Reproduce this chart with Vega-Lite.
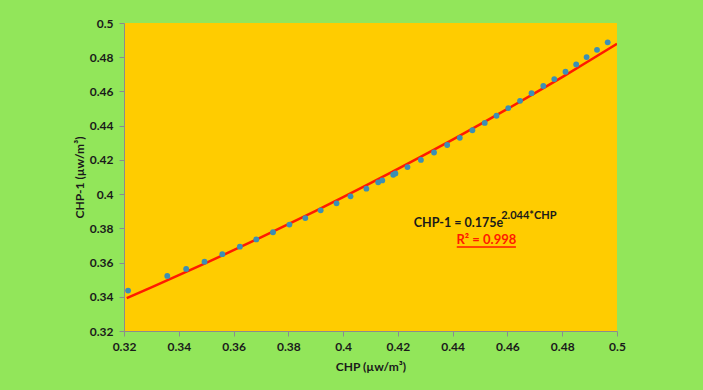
{
  "$schema": "https://vega.github.io/schema/vega-lite/v6.json",
  "width": 493,
  "height": 308,
  "autosize": {"type": "none"},
  "padding": {"left": 124, "top": 23, "right": 86, "bottom": 59},
  "background": "#92e65a",
  "config": {
    "view": {"fill": "#ffcc00", "stroke": null},
    "font": "Lato",
    "axis": {
      "grid": false,
      "domainColor": "#8c8c8c",
      "tickColor": "#8c8c8c",
      "tickSize": 5,
      "labelOverlap": false,
      "labelFlush": false,
      "labelFont": "Lato",
      "labelFontWeight": "bold",
      "labelFontSize": 12,
      "labelColor": "#1a1a1a",
      "titleFont": "Lato",
      "titleFontWeight": "bold",
      "titleFontSize": 12,
      "titleColor": "#1a1a1a"
    }
  },
  "datasets": {
    "obs": [
      {"CHP": 0.3215, "CHP_1": 0.3436},
      {"CHP": 0.3358, "CHP_1": 0.3522},
      {"CHP": 0.3427, "CHP_1": 0.3563},
      {"CHP": 0.3494, "CHP_1": 0.3605},
      {"CHP": 0.3559, "CHP_1": 0.3649},
      {"CHP": 0.3623, "CHP_1": 0.3693},
      {"CHP": 0.3683, "CHP_1": 0.3735},
      {"CHP": 0.3744, "CHP_1": 0.3777},
      {"CHP": 0.3804, "CHP_1": 0.3822},
      {"CHP": 0.3862, "CHP_1": 0.386},
      {"CHP": 0.3918, "CHP_1": 0.3905},
      {"CHP": 0.3976, "CHP_1": 0.3946},
      {"CHP": 0.4027, "CHP_1": 0.3987},
      {"CHP": 0.4085, "CHP_1": 0.4032},
      {"CHP": 0.4128, "CHP_1": 0.4069},
      {"CHP": 0.4143, "CHP_1": 0.408},
      {"CHP": 0.4183, "CHP_1": 0.4113},
      {"CHP": 0.4191, "CHP_1": 0.4121},
      {"CHP": 0.4235, "CHP_1": 0.4158},
      {"CHP": 0.4284, "CHP_1": 0.42},
      {"CHP": 0.4332, "CHP_1": 0.4243},
      {"CHP": 0.438, "CHP_1": 0.4287},
      {"CHP": 0.4426, "CHP_1": 0.4329},
      {"CHP": 0.4472, "CHP_1": 0.4373},
      {"CHP": 0.4517, "CHP_1": 0.4416},
      {"CHP": 0.456, "CHP_1": 0.4458},
      {"CHP": 0.4603, "CHP_1": 0.4503},
      {"CHP": 0.4646, "CHP_1": 0.4545},
      {"CHP": 0.4688, "CHP_1": 0.459},
      {"CHP": 0.4731, "CHP_1": 0.4632},
      {"CHP": 0.4771, "CHP_1": 0.4672},
      {"CHP": 0.4812, "CHP_1": 0.4715},
      {"CHP": 0.4851, "CHP_1": 0.4758},
      {"CHP": 0.4889, "CHP_1": 0.4801},
      {"CHP": 0.4927, "CHP_1": 0.4843},
      {"CHP": 0.4966, "CHP_1": 0.4887}
    ],
    "fit": [
      {"CHP": 0.321, "CHP_1": 0.3392},
      {"CHP": 0.33, "CHP_1": 0.3455},
      {"CHP": 0.34, "CHP_1": 0.3526},
      {"CHP": 0.35, "CHP_1": 0.3598},
      {"CHP": 0.36, "CHP_1": 0.3672},
      {"CHP": 0.37, "CHP_1": 0.3747},
      {"CHP": 0.38, "CHP_1": 0.3824},
      {"CHP": 0.39, "CHP_1": 0.3902},
      {"CHP": 0.4, "CHP_1": 0.3982},
      {"CHP": 0.41, "CHP_1": 0.4064},
      {"CHP": 0.42, "CHP_1": 0.4147},
      {"CHP": 0.43, "CHP_1": 0.4232},
      {"CHP": 0.44, "CHP_1": 0.4319},
      {"CHP": 0.45, "CHP_1": 0.4408},
      {"CHP": 0.46, "CHP_1": 0.4498},
      {"CHP": 0.47, "CHP_1": 0.459},
      {"CHP": 0.48, "CHP_1": 0.4684},
      {"CHP": 0.49, "CHP_1": 0.4781},
      {"CHP": 0.5, "CHP_1": 0.4879}
    ]
  },
  "layer": [
    {
      "data": {"name": "fit"},
      "mark": {"type": "line", "color": "#ff1a00", "strokeWidth": 2.5, "clip": true},
      "encoding": {
        "x": {
          "field": "CHP", "type": "quantitative",
          "scale": {"domain": [0.32, 0.5], "nice": false, "zero": false},
          "axis": {"title": "CHP (µw/m³)", "values": [0.32, 0.34, 0.36, 0.38, 0.4, 0.42, 0.44, 0.46, 0.48, 0.5], "format": "~g", "labelOverlap": false, "labelPadding": 5, "titlePadding": 9}
        },
        "y": {
          "field": "CHP_1", "type": "quantitative",
          "scale": {"domain": [0.32, 0.5], "nice": false, "zero": false},
          "axis": {"title": "CHP-1 (µw/m³)", "values": [0.32, 0.34, 0.36, 0.38, 0.4, 0.42, 0.44, 0.46, 0.48, 0.5], "format": "~g", "labelOverlap": false, "labelPadding": 6, "titlePadding": 3}
        }
      }
    },
    {
      "data": {"name": "obs"},
      "mark": {"type": "circle", "color": "#3b8fb5", "opacity": 1, "size": 34},
      "encoding": {
        "x": {"field": "CHP", "type": "quantitative",
          "axis": {"title": "CHP (µw/m³)", "values": [0.32, 0.34, 0.36, 0.38, 0.4, 0.42, 0.44, 0.46, 0.48, 0.5], "format": "~g", "labelOverlap": false, "labelPadding": 5, "titlePadding": 9}},
        "y": {"field": "CHP_1", "type": "quantitative",
          "axis": {"title": "CHP-1 (µw/m³)", "values": [0.32, 0.34, 0.36, 0.38, 0.4, 0.42, 0.44, 0.46, 0.48, 0.5], "format": "~g", "labelOverlap": false, "labelPadding": 6, "titlePadding": 3}}
      }
    },
    {
      "data": {"values": [{}]},
      "mark": {"type": "text", "text": "CHP-1 = 0.175e", "align": "left", "baseline": "alphabetic", "fontSize": 12.5, "fontWeight": "bold", "color": "#1a1a1a"},
      "encoding": {
        "x": {"datum": 0.4258, "type": "quantitative",
          "axis": {"title": "CHP (µw/m³)", "values": [0.32, 0.34, 0.36, 0.38, 0.4, 0.42, 0.44, 0.46, 0.48, 0.5], "format": "~g", "labelOverlap": false, "labelPadding": 5, "titlePadding": 9}},
        "y": {"datum": 0.3808, "type": "quantitative",
          "axis": {"title": "CHP-1 (µw/m³)", "values": [0.32, 0.34, 0.36, 0.38, 0.4, 0.42, 0.44, 0.46, 0.48, 0.5], "format": "~g", "labelOverlap": false, "labelPadding": 6, "titlePadding": 3}}
      }
    },
    {
      "data": {"values": [{}]},
      "mark": {"type": "text", "text": "2.044*CHP", "align": "left", "baseline": "alphabetic", "fontSize": 11, "fontWeight": "bold", "color": "#1a1a1a"},
      "encoding": {
        "x": {"datum": 0.4577, "type": "quantitative",
          "axis": {"title": "CHP (µw/m³)", "values": [0.32, 0.34, 0.36, 0.38, 0.4, 0.42, 0.44, 0.46, 0.48, 0.5], "format": "~g", "labelOverlap": false, "labelPadding": 5, "titlePadding": 9}},
        "y": {"datum": 0.3857, "type": "quantitative",
          "axis": {"title": "CHP-1 (µw/m³)", "values": [0.32, 0.34, 0.36, 0.38, 0.4, 0.42, 0.44, 0.46, 0.48, 0.5], "format": "~g", "labelOverlap": false, "labelPadding": 6, "titlePadding": 3}}
      }
    },
    {
      "data": {"values": [{}]},
      "mark": {"type": "text", "text": "R² = 0.998", "align": "center", "baseline": "alphabetic", "fontSize": 13, "fontWeight": "bold", "color": "#ff1a00"},
      "encoding": {
        "x": {"datum": 0.4523, "type": "quantitative",
          "axis": {"title": "CHP (µw/m³)", "values": [0.32, 0.34, 0.36, 0.38, 0.4, 0.42, 0.44, 0.46, 0.48, 0.5], "format": "~g", "labelOverlap": false, "labelPadding": 5, "titlePadding": 9}},
        "y": {"datum": 0.3709, "type": "quantitative",
          "axis": {"title": "CHP-1 (µw/m³)", "values": [0.32, 0.34, 0.36, 0.38, 0.4, 0.42, 0.44, 0.46, 0.48, 0.5], "format": "~g", "labelOverlap": false, "labelPadding": 6, "titlePadding": 3}}
      }
    },
    {
      "data": {"values": [{}]},
      "mark": {"type": "rule", "color": "#ff1a00", "strokeWidth": 1.5},
      "encoding": {
        "x": {"datum": 0.4415, "type": "quantitative",
          "axis": {"title": "CHP (µw/m³)", "values": [0.32, 0.34, 0.36, 0.38, 0.4, 0.42, 0.44, 0.46, 0.48, 0.5], "format": "~g", "labelOverlap": false, "labelPadding": 5, "titlePadding": 9}},
        "x2": {"datum": 0.4631},
        "y": {"datum": 0.3691, "type": "quantitative",
          "axis": {"title": "CHP-1 (µw/m³)", "values": [0.32, 0.34, 0.36, 0.38, 0.4, 0.42, 0.44, 0.46, 0.48, 0.5], "format": "~g", "labelOverlap": false, "labelPadding": 6, "titlePadding": 3}}
      }
    }
  ]
}
